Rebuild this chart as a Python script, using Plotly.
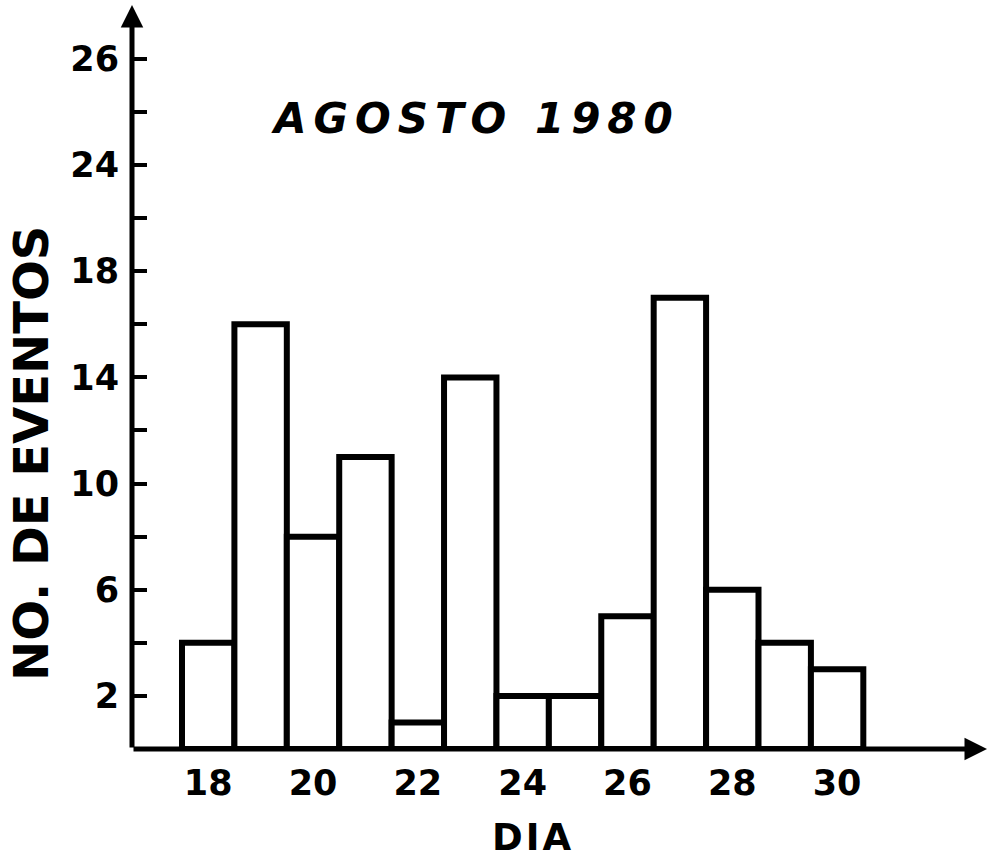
import plotly.graph_objects as go

# Data
days = [18, 19, 20, 21, 22, 23, 24, 25, 26, 27, 28, 29, 30]
eventos = [4, 16, 8, 11, 1, 14, 2, 2, 5, 17, 6, 4, 3]

x_tick_vals = [18, 20, 22, 24, 26, 28, 30]
x_tick_text = ["18", "20", "22", "24", "26", "28", "30"]

y_tick_vals = [2, 4, 6, 8, 10, 12, 14, 16, 18, 20, 22, 24, 26]
y_tick_text = ["2", "", "6", "", "10", "", "14", "", "18", "", "24", "", "26"]

title_text = "AGOSTO 1980"
y_title = "NO. DE EVENTOS"
x_title = "DIA"

FONT = "DejaVu Sans"

fig = go.Figure()
fig.add_trace(go.Bar(
    x=days, y=eventos, width=1,
    marker=dict(color="white", line=dict(color="black", width=6)),
    cliponaxis=False,
))

fig.update_layout(
    width=991, height=862,
    margin=dict(l=132, r=4, t=5, b=113),
    paper_bgcolor="white", plot_bgcolor="white",
    showlegend=False,
    font=dict(family=FONT, color="black"),
    xaxis=dict(
        range=[16.546, 32.86], showgrid=False, zeroline=False, showline=False,
        tickmode="array", tickvals=x_tick_vals, ticktext=x_tick_text,
        ticks="", tickfont=dict(family=FONT, size=35, color="black", weight="bold"),
        ticklabelstandoff=10,
    ),
    yaxis=dict(
        range=[0, 28.03], showgrid=False, zeroline=False, showline=False,
        tickmode="array", tickvals=y_tick_vals, ticktext=y_tick_text,
        ticks="inside", ticklen=15, tickwidth=4, tickcolor="black",
        tickfont=dict(family=FONT, size=35, color="black", weight="bold"),
        ticklabelstandoff=12,
    ),
)

# Axis lines with arrow heads
fig.add_annotation(xref="paper", yref="y", x=1.0, y=0, ax=-855, ay=0,
                   axref="pixel", ayref="pixel", text="", showarrow=True,
                   arrowhead=2, arrowwidth=5, arrowsize=0.9, arrowcolor="black")
fig.add_annotation(xref="paper", yref="paper", x=0, y=1.0, ax=0, ay=744,
                   axref="pixel", ayref="pixel", text="", showarrow=True,
                   arrowhead=2, arrowwidth=5, arrowsize=0.9, arrowcolor="black")

# Texts
fig.add_annotation(xref="paper", yref="paper", x=0.402, y=0.848, showarrow=False,
                   xanchor="center", yanchor="middle",
                   text='<i><span style="letter-spacing:7px">' + title_text + '</span></i>',
                   font=dict(family=FONT, size=42, color="black", weight="bold"))
fig.add_annotation(xref="paper", yref="paper", x=-0.119, y=0.397, showarrow=False,
                   xanchor="center", yanchor="middle", textangle=-90,
                   text=y_title,
                   font=dict(family=FONT, size=48, color="black", weight="bold"))
fig.add_annotation(xref="paper", yref="paper", x=0.469, y=-0.1196, showarrow=False,
                   xanchor="center", yanchor="middle",
                   text='<span style="letter-spacing:3px">' + x_title + '</span>',
                   font=dict(family=FONT, size=37, color="black", weight="bold"))

fig.write_html("out.html", config={"displayModeBar": False},
               post_script="document.body.style.margin='0px';")
